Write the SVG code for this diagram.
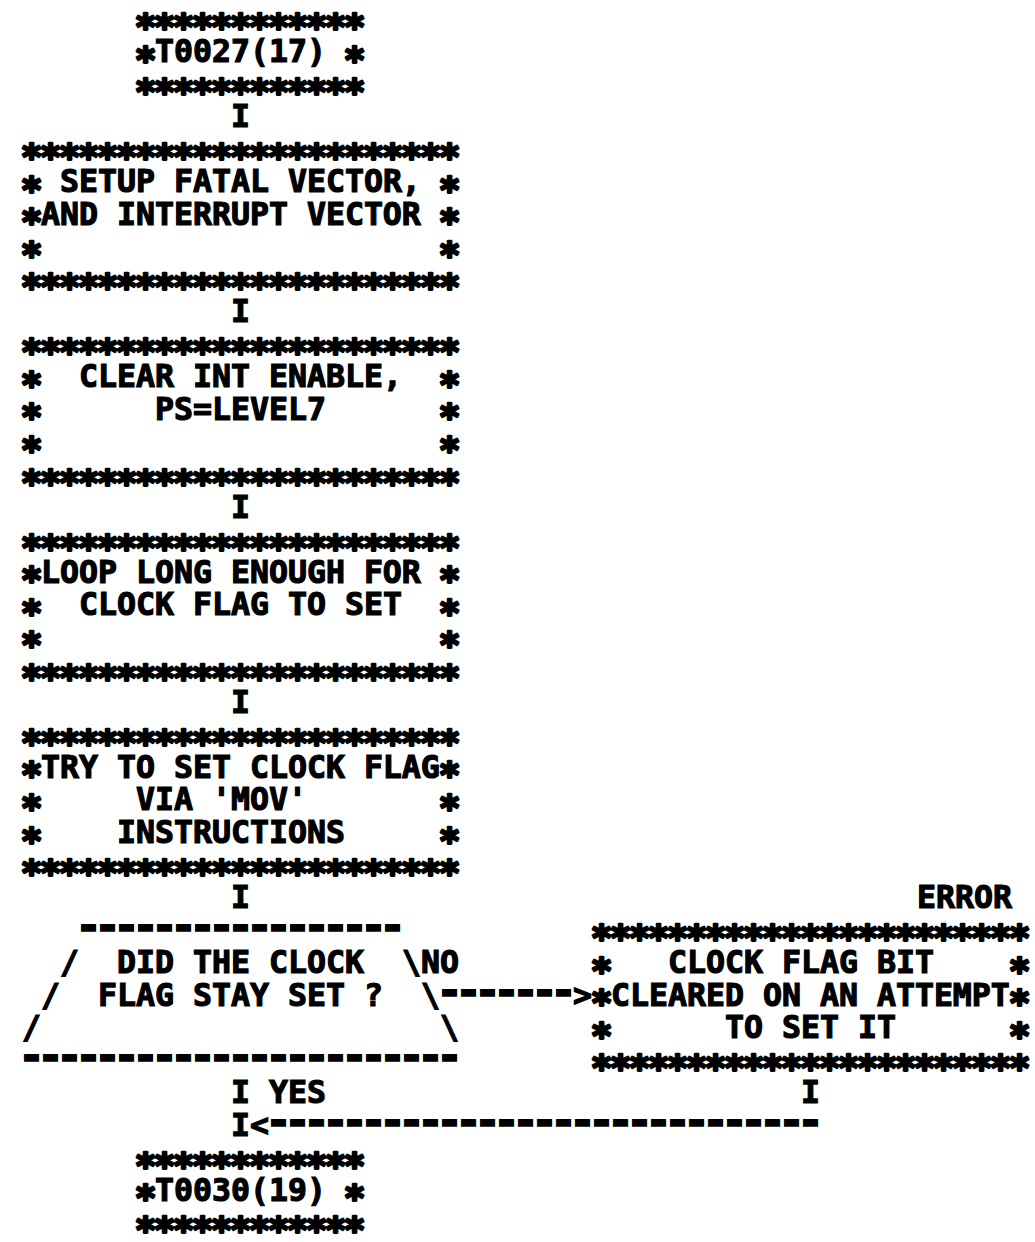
<svg xmlns="http://www.w3.org/2000/svg" width="1035" height="1242" viewBox="0 0 1035 1242">
<style>
text { font-family: "DejaVu Sans Mono", "Liberation Mono", monospace; font-weight: bold; fill: #000; stroke: #000; }
.t { font-size: 31.56px; stroke-width: 1.2px; }
.s { font-size: 36px; letter-spacing: -2.67px; stroke-width: 2.6px; stroke-linejoin: round; }
.d { font-size: 44px; letter-spacing: -7.49px; stroke-width: 1.5px; }
</style>
<rect x="0" y="0" width="1035" height="1242" fill="#fff"/>

<g id="node-start">
<text class="s" x="134.66" y="39">************</text>
<text class="s" x="134.66" y="71.54">*</text>
<text class="t" x="155" y="62.04">T0027(17)</text>
<text class="s" x="343.66" y="71.54">*</text>
<text class="s" x="134.66" y="104.08">************</text>
</g>

<g id="node-setup">
<text class="s" x="20.66" y="169.16">***********************</text>
<text class="s" x="20.66" y="201.7">*</text>
<text class="t" x="60" y="192.2">SETUP FATAL VECTOR,</text>
<text class="s" x="438.66" y="201.7">*</text>
<text class="s" x="20.66" y="234.24">*</text>
<text class="t" x="41" y="224.74">AND INTERRUPT VECTOR</text>
<text class="s" x="438.66" y="234.24">*</text>
<text class="s" x="20.66" y="266.78">*</text>
<text class="s" x="438.66" y="266.78">*</text>
<text class="s" x="20.66" y="299.32">***********************</text>
</g>

<g id="node-clear">
<text class="s" x="20.66" y="364.4">***********************</text>
<text class="s" x="20.66" y="396.94">*</text>
<text class="t" x="79" y="387.44">CLEAR INT ENABLE,</text>
<text class="s" x="438.66" y="396.94">*</text>
<text class="s" x="20.66" y="429.48">*</text>
<text class="t" x="155" y="419.98">PS=LEVEL7</text>
<text class="s" x="438.66" y="429.48">*</text>
<text class="s" x="20.66" y="462.02">*</text>
<text class="s" x="438.66" y="462.02">*</text>
<text class="s" x="20.66" y="494.56">***********************</text>
</g>

<g id="node-loop">
<text class="s" x="20.66" y="559.64">***********************</text>
<text class="s" x="20.66" y="592.18">*</text>
<text class="t" x="41" y="582.68">LOOP LONG ENOUGH FOR</text>
<text class="s" x="438.66" y="592.18">*</text>
<text class="s" x="20.66" y="624.72">*</text>
<text class="t" x="79" y="615.22">CLOCK FLAG TO SET</text>
<text class="s" x="438.66" y="624.72">*</text>
<text class="s" x="20.66" y="657.26">*</text>
<text class="s" x="438.66" y="657.26">*</text>
<text class="s" x="20.66" y="689.8">***********************</text>
</g>

<g id="node-try">
<text class="s" x="20.66" y="754.88">***********************</text>
<text class="s" x="20.66" y="787.42">*</text>
<text class="t" x="41" y="777.92">TRY TO SET CLOCK FLAG</text>
<text class="s" x="438.66" y="787.42">*</text>
<text class="s" x="20.66" y="819.96">*</text>
<text class="t" x="136" y="810.46">VIA 'MOV'</text>
<text class="s" x="438.66" y="819.96">*</text>
<text class="s" x="20.66" y="852.5">*</text>
<text class="t" x="117" y="843">INSTRUCTIONS</text>
<text class="s" x="438.66" y="852.5">*</text>
<text class="s" x="20.66" y="885.04">***********************</text>
</g>

<g id="node-decision">
<text class="d" x="75.25" y="941.12">-----------------</text>
<text class="t" x="60" y="973.16">/</text>
<text class="t" x="117" y="973.16">DID THE CLOCK</text>
<text class="t" x="402" y="973.16">\</text>
<text class="t" x="41" y="1005.7">/</text>
<text class="t" x="98" y="1005.7">FLAG STAY SET ?</text>
<text class="t" x="421" y="1005.7">\</text>
<text class="t" x="22" y="1038.24">/</text>
<text class="t" x="440" y="1038.24">\</text>
<text class="d" x="18.25" y="1071.28">-----------------------</text>
</g>

<g id="node-error">
<text class="t" x="917" y="908.08">ERROR</text>
<text class="s" x="590.66" y="950.12">***********************</text>
<text class="s" x="590.66" y="982.66">*</text>
<text class="t" x="668" y="973.16">CLOCK FLAG BIT</text>
<text class="s" x="1008.66" y="982.66">*</text>
<text class="s" x="590.66" y="1015.2">*</text>
<text class="t" x="611" y="1005.7">CLEARED ON AN ATTEMPT</text>
<text class="s" x="1008.66" y="1015.2">*</text>
<text class="s" x="590.66" y="1047.74">*</text>
<text class="t" x="725" y="1038.24">TO SET IT</text>
<text class="s" x="1008.66" y="1047.74">*</text>
<text class="s" x="590.66" y="1080.28">***********************</text>
</g>

<g id="node-end">
<text class="s" x="134.66" y="1177.9">************</text>
<text class="s" x="134.66" y="1210.44">*</text>
<text class="t" x="155" y="1200.94">T0030(19)</text>
<text class="s" x="343.66" y="1210.44">*</text>
<text class="s" x="134.66" y="1242">************</text>
</g>

<g id="connectors">
<text class="t" x="231" y="127.12">I</text>
<text class="t" x="231" y="322.36">I</text>
<text class="t" x="231" y="517.6">I</text>
<text class="t" x="231" y="712.84">I</text>
<text class="t" x="231" y="908.08">I</text>
<text class="t" x="421" y="973.16">NO</text>
<text class="d" x="436.25" y="1006.2">-------</text>
<text class="t" x="573" y="1005.7">&gt;</text>
<text class="t" x="231" y="1103.32">I</text>
<text class="t" x="269" y="1103.32">YES</text>
<text class="t" x="801" y="1103.32">I</text>
<text class="t" x="231" y="1135.86">I</text>
<text class="t" x="250" y="1135.86">&lt;</text>
<text class="d" x="265.25" y="1136.36">-----------------------------</text>
</g>
</svg>
